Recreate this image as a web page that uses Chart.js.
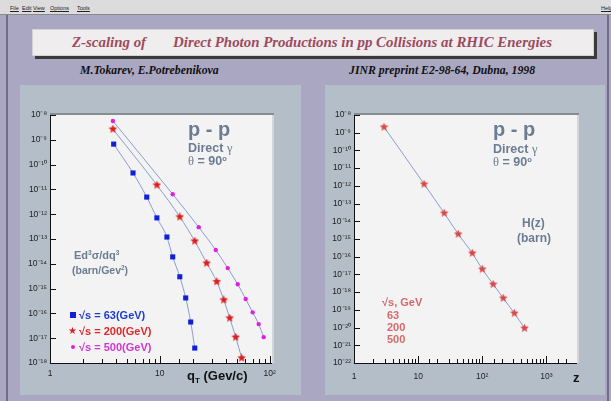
<!DOCTYPE html>
<html>
<head>
<meta charset="utf-8">
<title>Z-scaling of Direct Photon Productions</title>
<script src="https://cdn.jsdelivr.net/npm/chart.js@4.4.0/dist/chart.umd.min.js"></script>
<style>
  body { margin: 0; background: #aaa7c2; }
  #page { position: relative; width: 611px; height: 401px; overflow: hidden; background: #aaa7c2;
          font-family: "Liberation Sans", Arial, sans-serif; }
  .abs { position: absolute; white-space: nowrap; line-height: 1; transform: translateY(-50%); }
  .menu { position: absolute; left: 0; top: 0; width: 611px; height: 14px; background: #dcdcdc;
          border-bottom: 1px solid #8a8a8a; font-size: 5.5px; color: #222; }
  .menu span { position: absolute; top: 5px; text-decoration: underline; text-decoration-thickness: 0.5px; }
  .win { position: absolute; left: 6px; top: 15px; width: 599px; height: 386px;
         border-left: 2px solid #6f6b88; border-right: 2px solid #6f6b88; }
  .titlebox { position: absolute; left: 32px; top: 29px; width: 560px; height: 25px; background: #efeded;
              border: 1px solid #d4d2d2; box-shadow: 3px 3px 0 #3a3a3a; }
  .ttl { font-family: "Liberation Serif", "Times New Roman", serif; font-style: italic; font-weight: bold;
         font-size: 14.9px; color: #9c4b5e; }
  .sub { font-family: "Liberation Serif", "Times New Roman", serif; font-style: italic; font-weight: bold;
         font-size: 11.8px; color: #111; }
  .pad { position: absolute; top: 85px; height: 310px; background: #b3bec8; }
  canvas { position: absolute; top: 85px; }
  .note { font-weight: bold; color: #6c7c92; }
  .big { font-size: 20px; }
  .mid { font-size: 12.5px; }
  .serif { font-family: "Liberation Serif", serif; font-weight: normal; }
  sup.s { font-size: 0.6em; vertical-align: 0.55em; }
  .leg { font-size: 11px; font-weight: bold; }
  .mk { position: absolute; }
  .axt { font-weight: bold; font-size: 13px; color: #111; }
</style>
</head>
<body>
<div id="page">
  <div class="menu">
    <span style="left:10px">File</span><span style="left:22px">Edit</span><span style="left:33px">View</span>
    <span style="left:50px">Options</span><span style="left:77px">Tools</span><span style="left:601px">Help</span>
  </div>
  <div class="win"></div>
  <div class="titlebox"></div>
  <div class="abs ttl" style="left:72px; top:42px">Z-scaling of</div>
  <div class="abs ttl" style="left:173px; top:42px">Direct Photon Productions in pp Collisions at RHIC Energies</div>
  <div class="abs sub" style="left:80px; top:71px">M.Tokarev, E.Potrebenikova</div>
  <div class="abs sub" style="left:349px; top:71px">JINR preprint E2-98-64, Dubna, 1998</div>

  <div class="pad" style="left:20px; width:281px"></div>
  <div class="pad" style="left:325px; width:280px"></div>
  <canvas id="spectra" width="281" height="310" style="left:20px"></canvas>
  <canvas id="scaling" width="280" height="310" style="left:325px"></canvas>

  <!-- left panel notes -->
  <div class="abs note big" style="left:188px; top:129px">p - p</div>
  <div class="abs note mid" style="left:188px; top:148px">Direct <span class="serif">γ</span></div>
  <div class="abs note mid" style="left:188px; top:161px"><span class="serif">θ</span> = 90<sup class="s">o</sup></div>
  <div class="abs note" style="left:74px; top:255px; font-size:11px">Ed<sup class="s">3</sup>σ/dq<sup class="s">3</sup></div>
  <div class="abs note" style="left:72px; top:270px; font-size:10.5px">(barn/Gev<sup class="s">2</sup>)</div>

  <div class="mk" style="left:70px; top:312px; width:6px; height:6px; background:#1020d8"></div>
  <div class="abs leg" style="left:79px; top:315px; color:#1d3bd0">√s = 63(GeV)</div>
  <div class="abs" style="left:68px; top:331px; font-size:10px; color:#e02020">★</div>
  <div class="abs leg" style="left:79px; top:331px; color:#e12828">√s = 200(GeV)</div>
  <div class="mk" style="left:71px; top:345px; width:4px; height:4px; border-radius:50%; background:#e020e0"></div>
  <div class="abs leg" style="left:79px; top:347px; color:#d236d2">√s = 500(GeV)</div>
  <div class="abs axt" style="left:187px; top:377px">q<sub style="font-size:8px">T</sub> (Gev/c)</div>

  <!-- right panel notes -->
  <div class="abs note big" style="left:493px; top:129px">p - p</div>
  <div class="abs note mid" style="left:493px; top:149px">Direct <span class="serif">γ</span></div>
  <div class="abs note mid" style="left:493px; top:162px"><span class="serif">θ</span> = 90<sup class="s">o</sup></div>
  <div class="abs note" style="left:522px; top:223px; font-size:12px">H(z)</div>
  <div class="abs note" style="left:517px; top:238px; font-size:12px">(barn)</div>
  <div class="abs leg" style="left:382px; top:302px; color:#d46a6a">√s, GeV</div>
  <div class="abs leg" style="left:387px; top:315px; color:#d46a6a">63</div>
  <div class="abs leg" style="left:387px; top:327px; color:#d46a6a">200</div>
  <div class="abs leg" style="left:387px; top:339px; color:#d46a6a">500</div>
  <div class="abs axt" style="left:573px; top:377px">z</div>
</div>

<script>
// invariant cross sections Ed3s/dq3 (barn/GeV2) vs qT (GeV/c)
const qt63 = [3.8, 5.7, 7.6, 9.4, 11.6, 13.1, 15.2, 17.2, 19.1, 20.8];
const sig63 = [6.7e-10, 4.6e-11, 4.9e-12, 7.1e-13, 1.2e-13, 1.9e-14, 3.0e-15, 4.2e-16, 4.5e-17, 4.0e-18];
const qt200 = [3.74, 9.4, 15.2, 20.8, 26.7, 33, 38.2, 43.3, 49.1, 55.6];
const sig200 = [2.7e-9, 1.5e-11, 7.8e-13, 8.3e-14, 1.07e-14, 1.9e-15, 3.5e-16, 6.5e-17, 1.1e-17, 1.6e-18];
const qt500 = [3.74, 13.1, 22.6, 32.3, 41.5, 51.2, 60.5, 70, 79.4, 88.2];
const sig500 = [5.7e-9, 6.4e-12, 3.0e-13, 3.6e-14, 6.7e-15, 1.5e-15, 3.8e-16, 1.1e-16, 3.7e-17, 1.1e-17];

// scaling function H(z) (barn)
const zVals = [2.94, 12.4, 25.5, 42.2, 69.8, 100, 148, 212, 316, 456];
const hVals = [2.1e-9, 1.26e-12, 2.9e-14, 1.9e-15, 1.6e-16, 2.0e-17, 2.8e-18, 4.6e-19, 6.5e-20, 9.3e-21];

const sup = { '0': '⁰', '1': '¹', '2': '²', '3': '³', '4': '⁴', '5': '⁵', '6': '⁶', '7': '⁷', '8': '⁸', '9': '⁹', '-': '⁻' };

function isPow10(v) {
  const e = Math.log10(v);
  return Math.abs(e - Math.round(e)) < 1e-6;
}

function powLabel(v) {
  if (!isPow10(v)) return '';
  const e = Math.round(Math.log10(v));
  if (e === 0) return '1';
  if (e === 1) return '10';
  return '10' + String(e).split('').map(c => sup[c]).join('');
}

function starImage(color, size) {
  const c = document.createElement('canvas');
  c.width = c.height = size;
  const g = c.getContext('2d');
  g.fillStyle = color;
  g.beginPath();
  const R = size / 2, r = R * 0.45;
  for (let i = 0; i < 10; i++) {
    const a = -Math.PI / 2 + i * Math.PI / 5;
    const rad = i % 2 ? r : R;
    g.lineTo(R + rad * Math.cos(a), R + rad * Math.sin(a));
  }
  g.closePath();
  g.fill();
  return c;
}

const pts = (xs, ys) => xs.map((x, i) => ({ x, y: ys[i] }));

// ROOT-like frame: light plot area, inward tick marks
const rootFrame = {
  id: 'rootFrame',
  beforeDraw(chart) {
    const { ctx, chartArea: a } = chart;
    ctx.save();
    ctx.fillStyle = '#f3f3f4';
    ctx.fillRect(a.left, a.top, a.right - a.left, a.bottom - a.top);
    ctx.fillStyle = '#878d95';
    ctx.fillRect(a.left, a.top - 2, a.right - a.left + 2, 2);
    ctx.fillStyle = '#d3d7db';
    ctx.fillRect(a.right, a.top, 2, a.bottom - a.top);
    ctx.restore();
  },
  afterDatasetsDraw(chart) {
    const { ctx, chartArea: a, scales: { x, y } } = chart;
    ctx.save();
    ctx.strokeStyle = '#111';
    ctx.lineWidth = 1;
    ctx.beginPath();
    ctx.moveTo(a.left + 0.5, a.top);
    ctx.lineTo(a.left + 0.5, a.bottom + 0.5);
    ctx.lineTo(a.right, a.bottom + 0.5);
    x.ticks.forEach(t => {
      const px = Math.round(x.getPixelForValue(t.value)) + 0.5;
      if (px < a.left + 1 || px > a.right - 1) return;
      const len = isPow10(t.value) ? 7 : 4;
      ctx.moveTo(px, a.bottom);
      ctx.lineTo(px, a.bottom - len);
    });
    y.ticks.forEach(t => {
      if (!isPow10(t.value)) return;
      const py = Math.round(y.getPixelForValue(t.value)) + 0.5;
      ctx.moveTo(a.left, py);
      ctx.lineTo(a.left + 6, py);
    });
    ctx.stroke();
    ctx.restore();
  }
};

function logChart(id, datasets, xMax, yMin, yWidth, padRight, xPad) {
  return new Chart(document.getElementById(id), {
    type: 'line',
    data: { datasets },
    options: {
      responsive: false,
      animation: false,
      layout: { padding: { left: 0, top: 30, right: padRight, bottom: 12 } },
      plugins: { legend: { display: false }, tooltip: { enabled: false } },
      scales: {
        x: {
          type: 'logarithmic', min: 1, max: xMax,
          grid: { display: false, drawTicks: false }, border: { display: false },
          ticks: { autoSkip: false, maxRotation: 0, padding: xPad, color: '#222',
                   font: { family: 'Liberation Sans', size: 8.5 }, callback: v => powLabel(v) },
          afterFit: s => { s.height = 20; }
        },
        y: {
          type: 'logarithmic', min: yMin, max: 1e-8,
          grid: { display: false, drawTicks: false }, border: { display: false },
          ticks: { autoSkip: false, padding: 3, color: '#222',
                   font: { family: 'Liberation Sans', size: 8.5 }, callback: v => powLabel(v) },
          afterFit: s => { s.width = yWidth; }
        }
      }
    },
    plugins: [rootFrame]
  });
}

const lineStyle = { borderColor: '#8c9dcc', borderWidth: 1, cubicInterpolationMode: 'monotone' };

logChart('spectra', [
  { ...lineStyle, data: pts(qt63, sig63), pointStyle: 'rect', pointRadius: 3.6,
    pointBackgroundColor: '#1020d8', pointBorderColor: '#1020d8', pointBorderWidth: 0 },
  { ...lineStyle, data: pts(qt200, sig200), pointStyle: starImage('#e01c1c', 9), pointRadius: 4 },
  { ...lineStyle, data: pts(qt500, sig500), pointStyle: 'circle', pointRadius: 2.2,
    pointBackgroundColor: '#e020e0', pointBorderColor: '#e020e0', pointBorderWidth: 0 }
], 105, 1e-18, 30, 29, 6);

logChart('scaling', [
  { ...lineStyle, data: pts(zVals, hVals), pointStyle: starImage('#d84848', 9), pointRadius: 4 }
], 3000, 1e-22, 29, 28, 9);
</script>
</body>
</html>
